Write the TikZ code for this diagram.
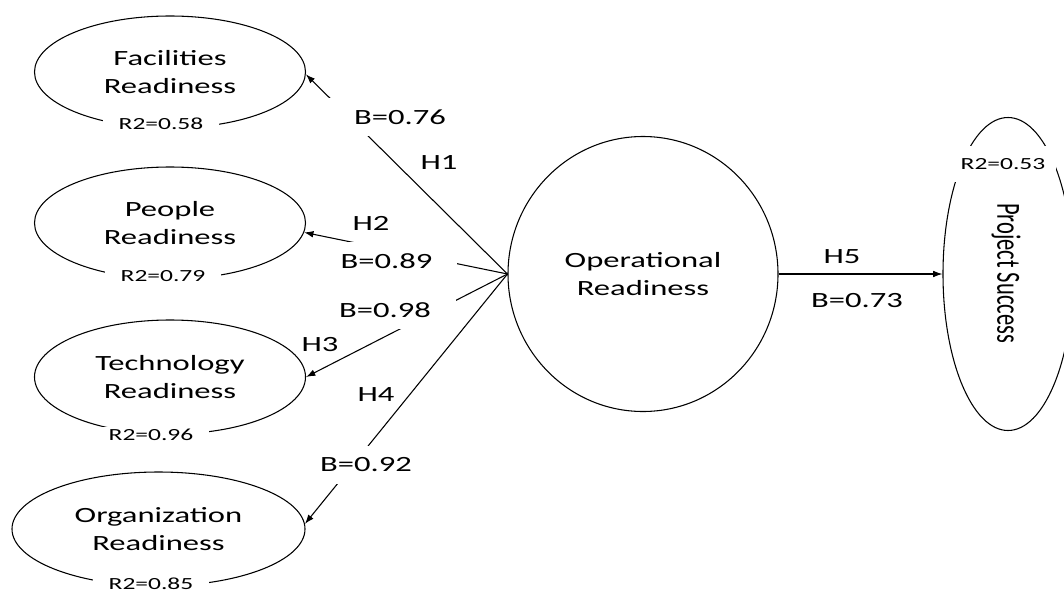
\documentclass[tikz,border=0pt]{standalone}
\usepackage{fontspec}
\usepackage{graphicx}
\setmainfont[FakeStretch=1.5]{Carlito}
\newfontfamily\upright{Carlito}
\usetikzlibrary{arrows.meta,shapes.geometric}
\def\LatWidth{203.25pt}
\def\LatHeight{84pt}
\def\MainSize{\fontsize{16.3}{20.5}\selectfont}
\def\SmallSize{\fontsize{12.75}{15}\selectfont}

\begin{document}
\begin{tikzpicture}[x=0.75pt,y=-0.75pt,
    latent/.style={draw, ellipse, line width=0.8pt, inner sep=0pt, align=center, font=\MainSize},
    link/.style={line width=0.8pt, -{Latex[length=7pt,width=5pt]}},
    coef/.style={fill=white, inner sep=0pt, minimum width=106pt, minimum height=28pt, font=\MainSize},
    hyp/.style={inner sep=1pt, font=\MainSize},
    rsq/.style={fill=white, inner xsep=12pt, inner ysep=2pt, font=\SmallSize}]
  \useasboundingbox (0,0) rectangle (1064,593);
  % readiness dimensions
  \node[latent, minimum width=\LatWidth, minimum height=\LatHeight] (FR) at (170,72) {Facilities\\Readiness};
  \node[latent, minimum width=\LatWidth, minimum height=\LatHeight] (PR) at (170,223) {People\\Readiness};
  \node[latent, minimum width=\LatWidth, minimum height=85.5pt] (TR) at (170,377) {Technology\\Readiness};
  \node[latent, minimum width=219.75pt, minimum height=85.5pt] (OrgR) at (158.5,529) {Organization\\Readiness};
  % central construct and outcome
  \node[latent, minimum width=202.5pt, minimum height=206.25pt] (OpR) at (643,274) {Operational\\Readiness};
  \node[latent, minimum width=97.5pt, minimum height=234.75pt] (PS) at (1008,274) {};
  \node[rotate=-90, inner sep=0pt, font=\upright\fontsize{16.9}{20}\selectfont] (PStext) at (1006,273)
    {\scalebox{1}[1.5]{Project Success}};
  % paths
  \foreach \target/\ang in {FR/-1, PR/-4, TR/east, OrgR/2}
    {
      \draw[link] (OpR.west) -- (\target.\ang);
    }
  \draw[link] (OpR.east) -- (PS.west);
  % coefficients
  \node[coef] (B1) at (400,117) {B=0.76};
  \node[coef] (B2) at (386.5,261) {B=0.89};
  \node[coef] (B3) at (385,310) {B=0.98};
  \node[coef] (B4) at (366,465) {B=0.92};
  \node[hyp] (B5) at (857,301) {B=0.73};
  % hypotheses
  \node[hyp] (H1) at (439,163) {H1};
  \node[hyp] (H2) at (371,223) {H2};
  \node[hyp] (H3) at (320,345) {H3};
  \node[hyp] (H4) at (376,395) {H4};
  \node[hyp] (H5) at (842,257) {H5};
  % explained variance
  \node[rsq] (R1) at (161,124) {R2=0.58};
  \node[rsq] (R2) at (163,276) {R2=0.79};
  \node[rsq] (R3) at (151,435) {R2=0.96};
  \node[rsq] (R4) at (151,584) {R2=0.85};
  \node[rsq, inner xsep=8pt, inner ysep=9pt] (R5) at (1003,164) {R2=0.53};
\end{tikzpicture}
\end{document}
